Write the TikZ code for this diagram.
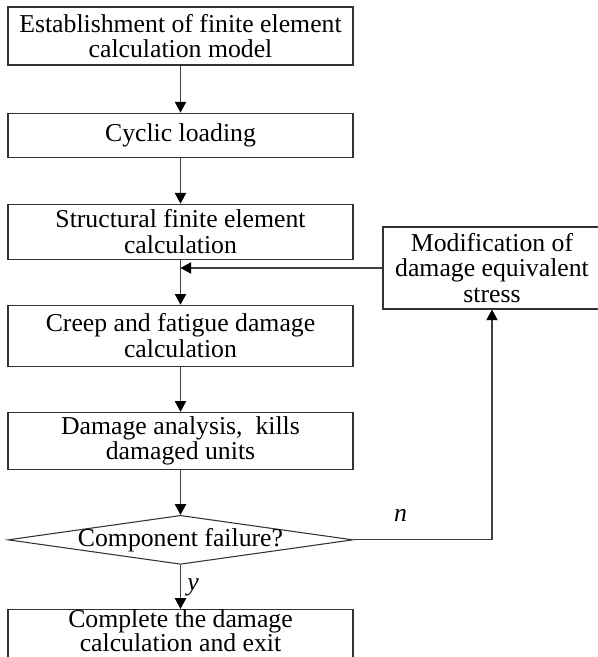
\documentclass[tikz,border=0pt]{standalone}
\usepackage{fontspec}
\setmainfont{Liberation Serif}
\usetikzlibrary{arrows.meta,positioning,shapes.geometric}

\begin{document}
\begin{tikzpicture}[
  x=0.75pt,
  y=-0.75pt,
  node distance=33.75pt,
  font=\fontsize{19.3}{19}\selectfont,
  mybox/.style={
    draw=black!80,
    line width=0.8pt,
    rectangle,
    align=center,
    minimum width=258.75pt,
    minimum height=#1,
    inner sep=2pt
    },
  mybox/.default=42.75pt,
  mydiamond/.style={
    draw=black!80,
    line width=0.8pt,
    diamond,
    minimum width=258.75pt,
    minimum height=36.75pt,
    inner sep=0pt
    },
  myarrow/.style={
    draw=black!75,
    line width=0.8pt,
    -{Triangle[width=8.5pt,length=8pt,color=black]}
    }
]

\useasboundingbox (0,0) rectangle (597,657);

% main column
\node[mybox=43.5pt] (model) at (180.5,36) {Establishment of finite element\\calculation model};
\node[mybox=33pt, below=35.25pt of model] (loading) {Cyclic loading};
\node[mybox=41.25pt, below=34.5pt of loading] (structural) {Structural finite element\\calculation};
\node[mybox=45.75pt, below=of structural] (creep) {Creep and fatigue damage\\calculation};
\node[mybox, below=of creep] (analysis) {Damage analysis,\ \ kills\\damaged units};
\node[mydiamond, below=of analysis] (failure) {};
\node (failtext) at (failure) {Component failure?};
\node[mybox=0pt, inner ysep=0.5pt, font=\fontsize{19.3}{18}\selectfont, below=33pt of failure] (finish) {Complete the damage\\calculation and exit\\[-8pt]\mbox{}};

% feedback box
\node[mybox=61.5pt, minimum width=163.5pt] (modify) at (492,268) {Modification of\\damage equivalent\\stress};

\draw[myarrow] (model) -- (loading);
\draw[myarrow] (loading) -- (structural);
\draw[myarrow] (structural) -- (creep);
\draw[myarrow] (creep) -- (analysis);
\draw[myarrow] (analysis) -- (failure);
\draw[myarrow] (failure) -- node[right=1.5pt] (ylabel) {\textit{y}} (finish);
\draw[myarrow] (failure.east) -| node[pos=0.17, above=10pt] (nlabel) {\textit{n}} (modify.south);
\draw[myarrow] (modify.west) -- (modify.west -| structural.south);

\end{tikzpicture}
\end{document}
